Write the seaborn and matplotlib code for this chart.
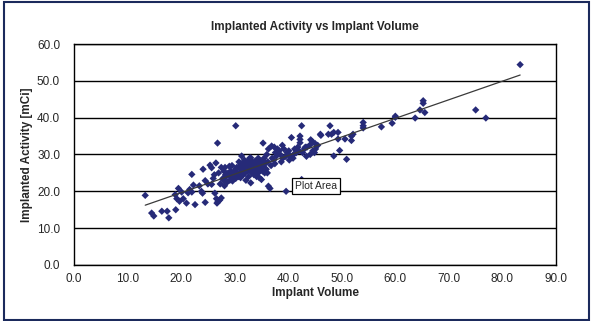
import matplotlib
matplotlib.use("Agg")
import matplotlib.pyplot as plt
import seaborn as sns
import numpy as np
import pandas as pd
from matplotlib.patches import Rectangle

# ---- data ----
volume = [
    13.3, 14.5, 14.9, 16.4, 17.4, 17.7, 19.0, 18.9, 19.5, 19.2, 19.7, 20.4, 21.0, 20.1, 21.3, 21.6, 22.0, 22.0, 22.3, 22.6,
    23.4, 23.8, 24.0, 24.5, 24.1, 24.5, 25.0, 25.4, 25.7, 25.7, 26.0, 26.3, 26.5, 26.8, 26.6, 26.9, 27.2, 26.7, 27.5, 26.2,
    27.0, 27.3, 27.8, 27.5,
    28.1, 27.9, 28.3, 28.0, 28.2,
    28.6, 28.4, 28.8,
    29.1, 28.9, 29.3, 29.0,
    29.6, 29.4, 29.8, 29.5,
    30.2, 29.9, 30.1, 30.4, 30.2,
    30.7, 30.5, 30.3, 30.8,
    31.1, 30.9, 31.2, 31.0, 31.3,
    31.6, 31.4, 31.7, 31.5, 31.8,
    32.1, 31.9, 32.2, 32.0, 32.3,
    32.6, 32.4, 32.7, 32.5, 32.8,
    33.0, 33.2, 32.9, 33.1, 33.3, 33.0,
    33.6, 33.4, 33.7, 33.5, 33.8,
    34.1, 33.9, 34.2, 34.0, 34.3,
    34.6, 34.4, 34.7, 34.5, 34.8, 34.4,
    35.0, 35.2, 34.9, 35.1, 35.3, 35.3,
    35.6, 35.4, 35.7, 35.5,
    36.1, 35.9, 36.2, 36.0, 36.3,
    36.3, 36.6,
    36.9, 36.8, 37.0,
    37.5, 37.3, 37.6, 37.4,
    37.8, 38.0,
    38.5, 38.3, 38.7,
    39.0, 39.2, 38.9,
    39.6, 39.5, 39.8,
    40.0, 40.2, 40.1,
    40.6, 40.5,
    41.0, 41.2, 40.9, 41.5,
    42.0, 41.8, 42.5, 42.2, 42.2, 42.2,
    42.5, 42.7,
    43.0, 43.2, 43.5, 43.4,
    44.0, 44.2, 44.1, 44.5, 44.6,
    45.0, 45.1, 44.9, 45.5,
    46.0, 46.1, 47.5, 47.8, 48.1, 48.5, 48.5,
    49.3, 49.3, 49.6, 50.6, 50.9, 51.8, 51.8, 52.1,
    54.0, 54.0, 54.0, 57.4, 59.4, 60.0, 60.0,
    63.7, 64.6, 65.2, 65.2, 65.5, 75.0, 76.9, 83.3,
]
activity = [
    18.9, 14.1, 13.3, 14.6, 14.6, 12.8, 15.0, 19.1, 20.8, 18.0, 17.3, 18.0, 16.8, 19.8, 19.6, 20.5, 19.8, 24.6, 21.7, 16.4,
    21.5, 20.0, 19.5, 17.0, 26.0, 22.9, 22.0, 27.1, 26.4, 21.9, 23.5, 19.5, 27.7, 33.1, 18.0, 17.2, 17.6, 16.8, 18.2, 24.5,
    25.0, 22.0, 23.5, 26.5,
    21.5, 23.0, 24.5, 25.5, 26.5,
    22.5, 24.0, 25.0,
    23.0, 24.5, 25.5, 26.8,
    22.8, 24.0, 25.2, 27.0,
    23.5, 24.5, 25.5, 26.5, 37.8,
    24.0, 25.0, 26.2, 28.0,
    23.7, 25.0, 26.0, 27.0, 29.6,
    24.5, 25.5, 26.5, 27.5, 28.5,
    23.0, 25.0, 26.0, 27.0, 28.0,
    24.0, 25.5, 26.5, 27.5, 29.0,
    22.3, 25.0, 26.0, 27.0, 28.0, 29.1,
    24.5, 25.5, 26.5, 27.5, 28.2,
    24.0, 25.5, 26.5, 27.5, 28.5,
    23.7, 25.0, 26.0, 27.0, 28.0, 29.0,
    23.2, 25.5, 26.5, 27.5, 28.5, 33.1,
    25.0, 26.5, 27.5, 29.0,
    25.0, 26.0, 28.0, 30.0, 31.5,
    21.4, 20.8,
    32.3, 27.0, 29.0,
    27.5, 28.5, 30.5, 32.0,
    29.6, 31.5,
    30.0, 31.0, 28.0,
    29.0, 31.5, 32.5,
    20.0, 29.5, 30.5,
    30.0, 28.5, 31.0,
    34.6, 29.5,
    30.0, 31.5, 29.0, 30.5,
    31.0, 32.0, 37.8, 35.0, 34.1, 33.2,
    23.2, 30.5,
    31.5, 32.0, 32.0, 29.5,
    32.5, 34.0, 30.0, 33.5, 31.0,
    33.0, 31.5, 30.5, 32.5,
    35.5, 35.2, 35.5, 37.8, 35.5, 29.6, 36.0,
    36.0, 34.2, 31.1, 34.2, 28.7, 35.0, 33.8, 35.5,
    38.7, 37.8, 37.2, 37.5, 38.5, 40.4, 40.1,
    39.9, 42.1, 44.6, 43.9, 41.4, 42.1, 39.9, 54.4,
]
x_ticks = [0, 10, 20, 30, 40, 50, 60, 70, 80, 90]
y_ticks = [0, 10, 20, 30, 40, 50, 60]

df = pd.DataFrame({"Implant Volume": volume, "Implanted Activity": activity})

sns.set_style("white")
plt.rcParams["font.family"] = ["Liberation Sans", "DejaVu Sans"]

fig = plt.figure(figsize=(5.91, 3.21), dpi=100)
ax = fig.add_axes([0.1252, 0.1745, 0.8156, 0.6884])

navy = "#262a78"
sns.regplot(data=df, x="Implant Volume", y="Implanted Activity", ax=ax, ci=None,
            marker="D",
            scatter_kws={"s": 14, "color": navy, "edgecolor": "none", "alpha": 1, "zorder": 3},
            line_kws={"color": "#3a3a3a", "lw": 0.9, "zorder": 4})

ax.set_xlim(0, 90)
ax.set_ylim(0, 60)
ax.set_xticks(x_ticks)
ax.set_yticks(y_ticks)
ax.set_xticklabels([f"{v:.1f}" for v in x_ticks], fontsize=8.5)
ax.set_yticklabels([f"{v:.1f}" for v in y_ticks], fontsize=8.5)
ax.tick_params(axis="both", direction="out", length=4, width=1.5, color="#b0b0b0", pad=2)
ax.tick_params(axis="y", pad=6)

for v in y_ticks:
    ax.axhline(v, color="black", lw=1.0, zorder=1)
for s in ax.spines.values():
    s.set_color("black")
    s.set_linewidth(1.0)
    s.set_visible(True)

ax.set_xlabel("Implant Volume", fontsize=8.5, fontweight="bold")
ax.set_ylabel("Implanted Activity [mCi]", fontsize=8.5, fontweight="bold")
ax.xaxis.set_label_coords(0.5, -0.098)
ax.yaxis.set_label_coords(-0.085, 0.5)
ax.set_title("Implanted Activity vs Implant Volume", fontsize=8.5, fontweight="bold", pad=10)

ax.text(45.2, 21.4, "Plot Area", fontsize=7.5, ha="center", va="center", zorder=6,
        bbox=dict(boxstyle="square,pad=0.3", fc="white", ec="black", lw=0.9))

fig.patches.append(Rectangle((0.006, 0.004), 0.99, 0.99, transform=fig.transFigure,
                             fill=False, ec="#1b2a5c", lw=1.5))

fig.savefig("out.png", dpi=100)
